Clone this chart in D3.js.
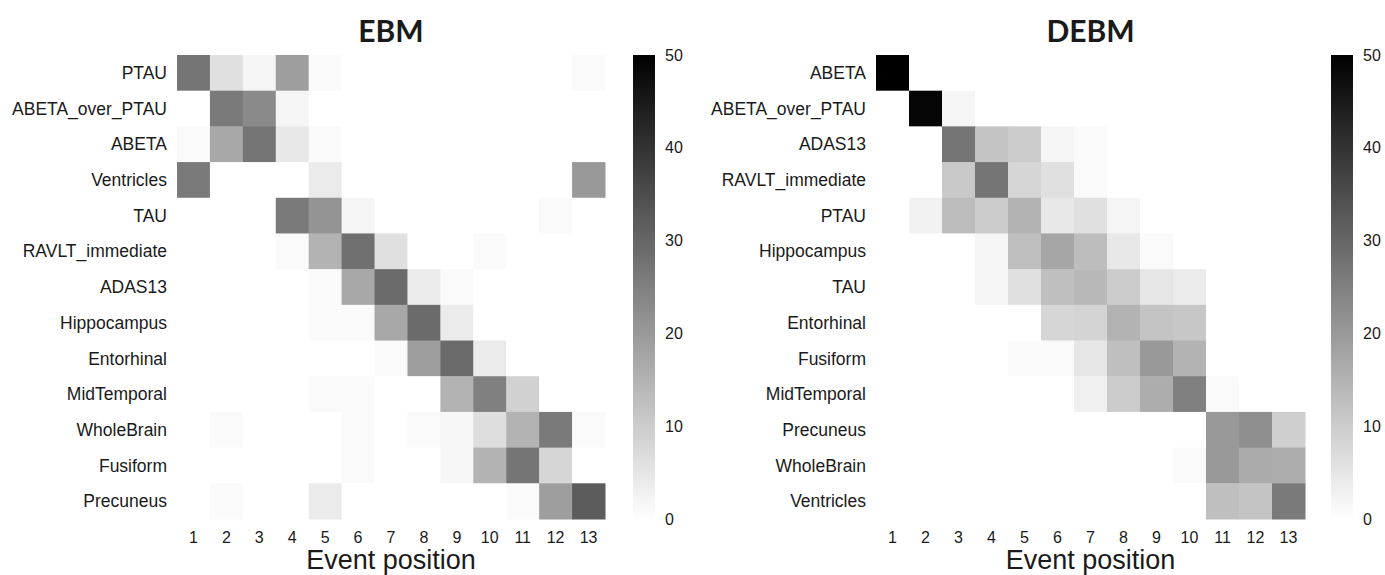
<!DOCTYPE html>
<html>
<head>
<meta charset="utf-8">
<script src="https://cdn.jsdelivr.net/npm/d3@7"></script>
<style>
  body { margin: 0; background: #fff; }
  svg text { fill: #1a1a1a; }
</style>
</head>
<body>
<svg id="chart" width="1385" height="575"></svg>
<script>
// event positions along the x axis
const positions = [1, 2, 3, 4, 5, 6, 7, 8, 9, 10, 11, 12, 13];
const colorbarTicks = [0, 10, 20, 30, 40, 50];

// EBM ordering, top to bottom
const ebmBiomarkers = ['PTAU', 'ABETA_over_PTAU', 'ABETA', 'Ventricles', 'TAU',
  'RAVLT_immediate', 'ADAS13', 'Hippocampus', 'Entorhinal', 'MidTemporal',
  'WholeBrain', 'Fusiform', 'Precuneus'];
const ebmValues = [
  [27, 6, 2, 19, 1, 0, 0, 0, 0, 0, 0, 0, 1],
  [0, 26, 23, 2, 0, 0, 0, 0, 0, 0, 0, 0, 0],
  [1, 17, 27, 4.5, 1, 0, 0, 0, 0, 0, 0, 0, 0],
  [26, 0, 0, 0, 4, 0, 0, 0, 0, 0, 0, 0, 20],
  [0, 0, 0, 26, 21, 2, 0, 0, 0, 0, 0, 1, 0],
  [0, 0, 0, 1, 15, 28, 6, 0, 0, 1, 0, 0, 0],
  [0, 0, 0, 0, 1, 17, 29, 4, 1, 0, 0, 0, 0],
  [0, 0, 0, 0, 1, 1, 17, 29, 4, 0, 0, 0, 0],
  [0, 0, 0, 0, 0, 0, 1, 19, 29, 4, 0, 0, 0],
  [0, 0, 0, 0, 1, 1, 0, 0, 15, 25, 9, 0, 0],
  [0, 1, 0, 0, 0, 1, 0, 1, 1.5, 6.5, 15, 26, 1],
  [0, 0, 0, 0, 0, 1, 0, 0, 1.5, 15, 27, 8, 0],
  [0, 1, 0, 0, 4, 0, 0, 0, 0, 0, 1, 19, 32]
];

// DEBM ordering, top to bottom
const debmBiomarkers = ['ABETA', 'ABETA_over_PTAU', 'ADAS13', 'RAVLT_immediate', 'PTAU',
  'Hippocampus', 'TAU', 'Entorhinal', 'Fusiform', 'MidTemporal',
  'Precuneus', 'WholeBrain', 'Ventricles'];
const debmValues = [
  [50, 0, 0, 0, 0, 0, 0, 0, 0, 0, 0, 0, 0],
  [0, 49, 2, 0, 0, 0, 0, 0, 0, 0, 0, 0, 0],
  [0, 0, 27, 11.5, 10, 2, 1, 0, 0, 0, 0, 0, 0],
  [0, 0, 10.5, 27, 8, 6, 1, 0, 0, 0, 0, 0, 0],
  [0, 2.5, 13, 10, 15, 4.5, 6, 2, 0, 0, 0, 0, 0],
  [0, 0, 0, 2, 12.5, 17.5, 13, 4.5, 1, 0, 0, 0, 0],
  [0, 0, 0, 2, 6, 12.5, 14, 10, 5, 4, 0, 0, 0],
  [0, 0, 0, 0, 0, 8, 8.5, 15, 11.5, 11, 0, 0, 0],
  [0, 0, 0, 0, 1, 1, 5, 12.5, 20, 15, 0, 0, 0],
  [0, 0, 0, 0, 0, 0, 3, 10, 16, 25, 1, 0, 0],
  [0, 0, 0, 0, 0, 0, 0, 0, 0, 0, 20, 22, 9.5],
  [0, 0, 0, 0, 0, 0, 0, 0, 0, 1, 20, 16.5, 16],
  [0, 0, 0, 0, 0, 0, 0, 0, 0, 0, 12.5, 11.5, 26]
];

const svg = d3.select('#chart');
const color = d3.scaleLinear().domain([0, 50]).range(['#ffffff', '#000000']);
const plotTop = 55, plotBottom = 519;
const font = '"Liberation Sans", Arial, sans-serif';

// shared vertical gradient for both colorbars
const grad = svg.append('defs').append('linearGradient')
  .attr('id', 'cbar').attr('x1', 0).attr('y1', 1).attr('x2', 0).attr('y2', 0);
d3.range(0, 51, 5).forEach(v => {
  grad.append('stop').attr('offset', v / 50).attr('stop-color', color(v));
});

function heatmap(title, rows, values, left, right, cbarX) {
  const x = d3.scaleBand().domain(positions).range([left, right]);
  const y = d3.scaleBand().domain(rows).range([plotTop, plotBottom]);
  const g = svg.append('g');

  const cells = [];
  values.forEach((row, i) => row.forEach((v, j) => {
    cells.push({ name: rows[i], pos: positions[j], value: v });
  }));

  g.selectAll('rect.cell')
    .data(cells)
    .join('rect')
    .attr('class', 'cell')
    .attr('x', d => x(d.pos))
    .attr('y', d => y(d.name))
    .attr('width', x.bandwidth() + 0.5)
    .attr('height', y.bandwidth() + 0.5)
    .attr('fill', d => color(d.value));

  // row labels
  g.selectAll('text.row')
    .data(rows)
    .join('text')
    .attr('class', 'row')
    .attr('x', left - 10)
    .attr('y', d => y(d) + y.bandwidth() / 2)
    .attr('dy', '0.35em')
    .attr('text-anchor', 'end')
    .style('font', '17.5px ' + font)
    .text(d => d);

  // column labels
  g.selectAll('text.col')
    .data(positions)
    .join('text')
    .attr('class', 'col')
    .attr('x', d => x(d) + x.bandwidth() / 2)
    .attr('y', 537)
    .attr('dy', '0.35em')
    .attr('text-anchor', 'middle')
    .style('font', '16px ' + font)
    .text(d => d);

  g.append('text')
    .attr('x', (left + right) / 2)
    .attr('y', 569)
    .attr('text-anchor', 'middle')
    .style('font', '27px ' + font)
    .text('Event position');

  g.append('text')
    .attr('x', (left + right) / 2)
    .attr('y', 42)
    .attr('text-anchor', 'middle')
    .style('font', 'bold 30px Lato, "Open Sans", sans-serif')
    .text(title);

  // colorbar
  const cy = d3.scaleLinear().domain([0, 50]).range([plotBottom, plotTop]);
  g.append('rect')
    .attr('x', cbarX).attr('y', plotTop)
    .attr('width', 22).attr('height', plotBottom - plotTop)
    .attr('fill', 'url(#cbar)');
  g.selectAll('text.cb')
    .data(colorbarTicks)
    .join('text')
    .attr('class', 'cb')
    .attr('x', cbarX + 32)
    .attr('y', d => cy(d))
    .attr('dy', '0.35em')
    .style('font', '16px ' + font)
    .text(d => d);
}

heatmap('EBM', ebmBiomarkers, ebmValues, 177, 605, 633);
heatmap('DEBM', debmBiomarkers, debmValues, 876, 1305, 1331);
</script>
</body>
</html>
